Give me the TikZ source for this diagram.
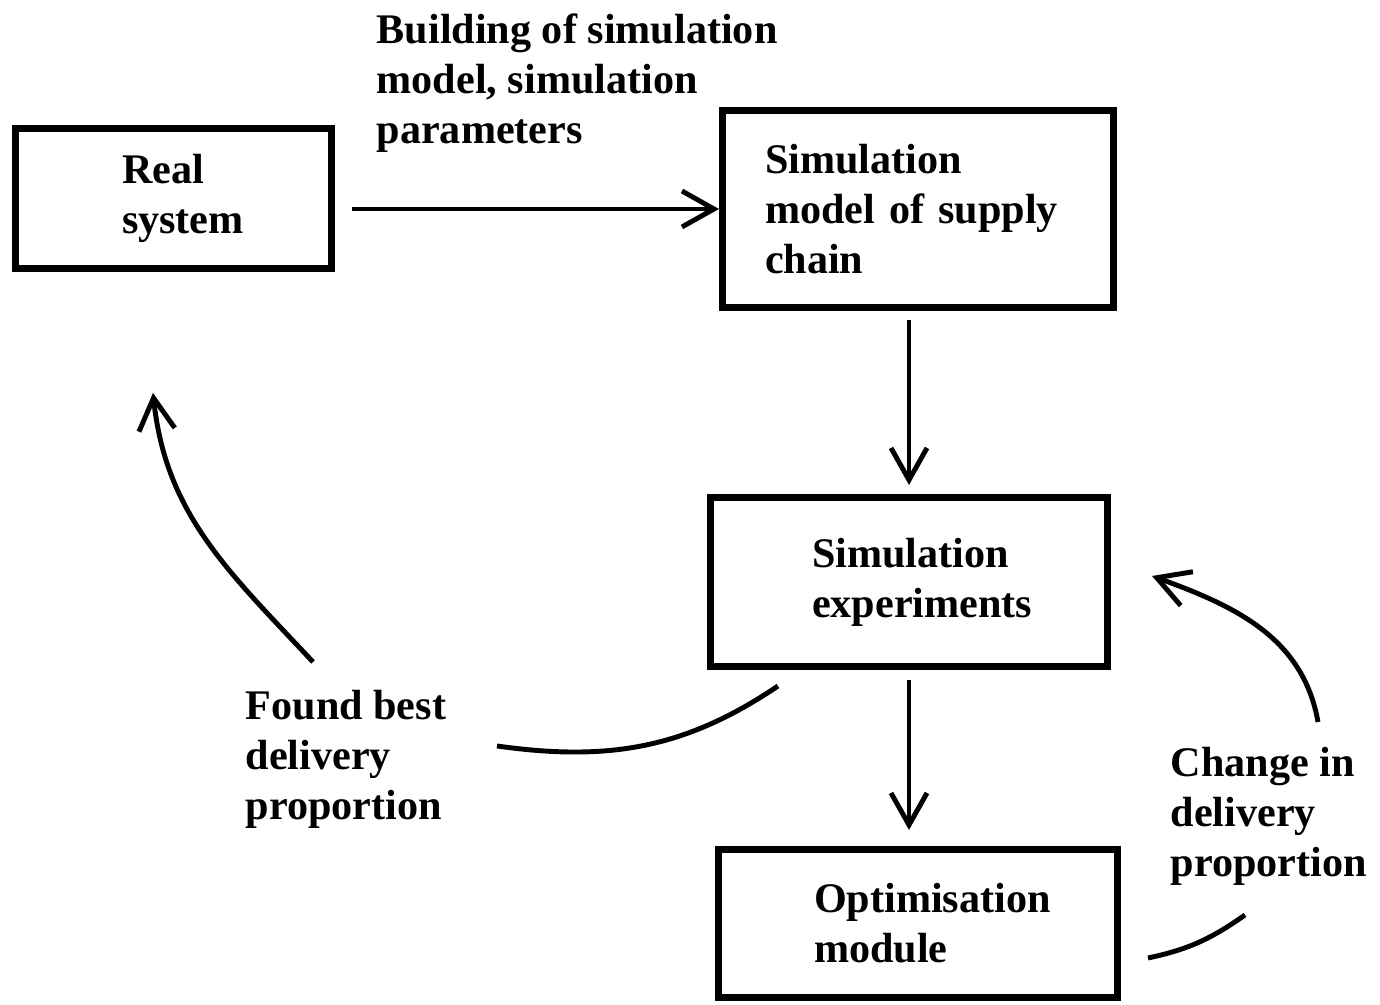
\documentclass[tikz,border=0pt]{standalone}
\usepackage{fontspec}
\setmainfont{Liberation Serif}
\usetikzlibrary{arrows.meta}

\begin{document}
\begin{tikzpicture}[
	box/.style={draw, line width=2pt, align=left, inner ysep=0pt, font=\bfseries\fontsize{12}{14.2}\selectfont},
	lbl/.style={anchor=west, align=left, inner sep=0pt, font=\bfseries\fontsize{12}{14.2}\selectfont},
	link/.style={line width=1.4pt},
	flow/.style={link, -{Straight Barb[length=3.2mm, width=3.6mm]}}
	]
	\useasboundingbox (0,0) rectangle (13.8,10.05);
	\node [box, minimum width=3.16cm, minimum height=1.40cm, inner xsep=1.065cm, text width=1.03cm] (real) at (1.735,8.065) {Real\\system};
	\node [box, minimum width=3.91cm, minimum height=1.97cm, inner xsep=0.425cm, text width=3.06cm] (model) at (9.18,7.96) {Simulation\\model of supply\\chain};
	\node [box, minimum width=3.97cm, minimum height=1.69cm, inner xsep=1.015cm, text width=1.94cm] (exper) at (9.09,4.23) {Simulation\\experiments};
	\node [box, minimum width=3.99cm, minimum height=1.48cm, inner xsep=0.955cm, text width=2.08cm] (optim) at (9.18,0.815) {Optimisation\\module};
	\node [lbl] (build) at (3.76,9.22) {Building of simulation\\model, simulation\\parameters};
	\node [lbl] (found) at (2.45,2.46) {Found best\\delivery\\proportion};
	\node [lbl] (change) at (11.70,1.89) {Change in\\delivery\\proportion};
	\draw [flow, shorten <=0.17cm] (real.east |- model.west) -- (model.west);
	\draw [flow, shorten <=0.09cm, shorten >=0.09cm] (model.south -| exper.north) -- (exper.north);
	\draw [flow, shorten <=0.10cm, shorten >=0.16cm] (exper.south) -- (exper.south |- optim.north);
	% feedback to the real system
	\coordinate (fbstart) at ([xshift=7.1mm, yshift=-1.6mm]exper.south west);
	\coordinate (fbmid) at (4.97,2.59);
	\coordinate (fbup) at (3.13,3.43);
	\coordinate (fbtip) at ([xshift=-2.05mm, yshift=-12.1mm]real.south);
	\draw [link] (fbstart) to[out=214, in=-8] (fbmid);
	\draw [flow] (fbup) to[out=133, in=-84] (fbtip);
	% loop between optimisation and experiments
	\coordinate (chstart) at (12.45,0.90);
	\coordinate (chend) at ([xshift=2.7mm, yshift=-3.45mm]optim.east);
	\coordinate (chup) at (13.18,2.83);
	\coordinate (chtip) at ([xshift=4.1mm, yshift=0.6mm]exper.east);
	\draw [link] (chstart) to[out=215, in=12] (chend);
	\draw [flow] (chup) to[out=100, in=-20] (chtip);
\end{tikzpicture}
\end{document}
